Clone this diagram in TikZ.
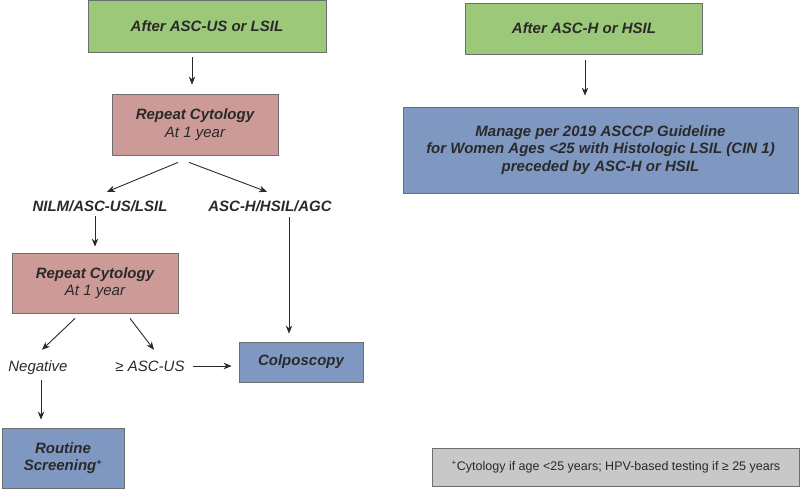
\documentclass[tikz,border=0pt]{standalone}
\usepackage{fontspec}
\setmainfont{Liberation Sans}
\usepackage{tikz}
\usetikzlibrary{arrows.meta}
\definecolor{startgreen}{HTML}{9CC87A}
\definecolor{cytored}{HTML}{CC9A97}
\definecolor{manageblue}{HTML}{7F98C1}
\definecolor{notegray}{HTML}{C8C8C8}
\definecolor{edgegray}{HTML}{6E6E6E}
\definecolor{inkgray}{HTML}{2A2A2A}

\begin{document}
\begin{tikzpicture}[x=1pt,y=-1pt,
    box/.style={draw=edgegray, line width=0.8pt, align=center, text=inkgray,
      inner sep=0pt, font=\fontsize{15}{17.5}\selectfont\itshape},
    tag/.style={text=inkgray, inner sep=0pt, text height=11pt, text depth=3pt,
      font=\fontsize{15}{17.5}\selectfont\itshape},
    arr/.style={-{Stealth[length=8pt,width=6.5pt]}, line width=0.9pt, draw=inkgray}]
  \useasboundingbox (0,0) rectangle (800,490);

  % left branch
  \node[box, fill=startgreen, minimum width=238pt, minimum height=52pt] (ascus) at (207,26)
    {\bfseries After ASC-US or LSIL};
  \node[box, fill=cytored, minimum width=166pt, minimum height=61pt] (cyto1) at (195,124.5)
    {\textbf{Repeat Cytology}\\At 1 year};
  \node[tag, font=\fontsize{15}{17.5}\selectfont\bfseries\itshape] (nilm) at (100,207) {NILM/ASC-US/LSIL};
  \node[tag, font=\fontsize{15}{17.5}\selectfont\bfseries\itshape] (asch) at (270,207) {ASC-H/HSIL/AGC};
  \node[box, fill=cytored, minimum width=166pt, minimum height=60pt] (cyto2) at (95,283)
    {\textbf{Repeat Cytology}\\At 1 year};
  \node[tag] (neg) at (38,367) {Negative};
  \node[tag] (geq) at (150,367) {≥ ASC-US};
  \node[box, fill=manageblue, minimum width=124pt, minimum height=40pt] (colpo) at (301,362)
    {\bfseries Colposcopy};
  \node[box, fill=manageblue, minimum width=122pt, minimum height=60pt] (routine) at (63,458)
    {\bfseries Routine\\\bfseries Screening\textsuperscript{\fontsize{9}{9}\selectfont +}};

  % right branch
  \node[box, fill=startgreen, minimum width=237pt, minimum height=51pt] (asch0) at (584,28.5)
    {\bfseries After ASC-H or HSIL};
  \node[box, fill=manageblue, minimum width=395pt, minimum height=86pt] (manage) at (600.5,150)
    {\bfseries Manage per 2019 ASCCP Guideline\\
     \bfseries for Women Ages <25 with Histologic LSIL (CIN 1)\\
     \bfseries preceded by ASC-H or HSIL};
  \node[box, fill=notegray, minimum width=367pt, minimum height=38pt,
    font=\fontsize{12.5}{15}\selectfont] (note) at (616,467)
    {\textsuperscript{\fontsize{8}{8}\selectfont +}Cytology if age <25 years; HPV-based testing if ≥ 25 years};

  % connectors
  \draw[arr] ([shift={(-15,5)}]ascus.south) -- ([shift={(-3,-9)}]cyto1.north);
  \draw[arr] ([shift={(-17,7)}]cyto1.south) -- ([shift={(7,-8)}]nilm.north);
  \draw[arr] ([shift={(-6,7)}]cyto1.south) -- ([shift={(-3,-8)}]asch.north);
  \draw[arr] ([shift={(-5,2)}]nilm.south) -- ([shift={(0,-6)}]cyto2.north);
  \draw[arr] ([shift={(19,3)}]asch.south) -- ([shift={(-12,-8)}]colpo.north);
  \draw[arr] ([shift={(-20,5)}]cyto2.south) -- ([shift={(4,-10)}]neg.north);
  \draw[arr] ([shift={(35,5)}]cyto2.south) -- ([shift={(4,-10)}]geq.north);
  \draw[arr] ([shift={(8,-1)}]geq.east) -- ([shift={(-7,4)}]colpo.west);
  \draw[arr] ([shift={(3,6)}]neg.south) -- ([shift={(-22,-8)}]routine.north);
  \draw[arr] ([shift={(1,6)}]asch0.south) -- ([shift={(-15.5,-11)}]manage.north);
\end{tikzpicture}
\end{document}
